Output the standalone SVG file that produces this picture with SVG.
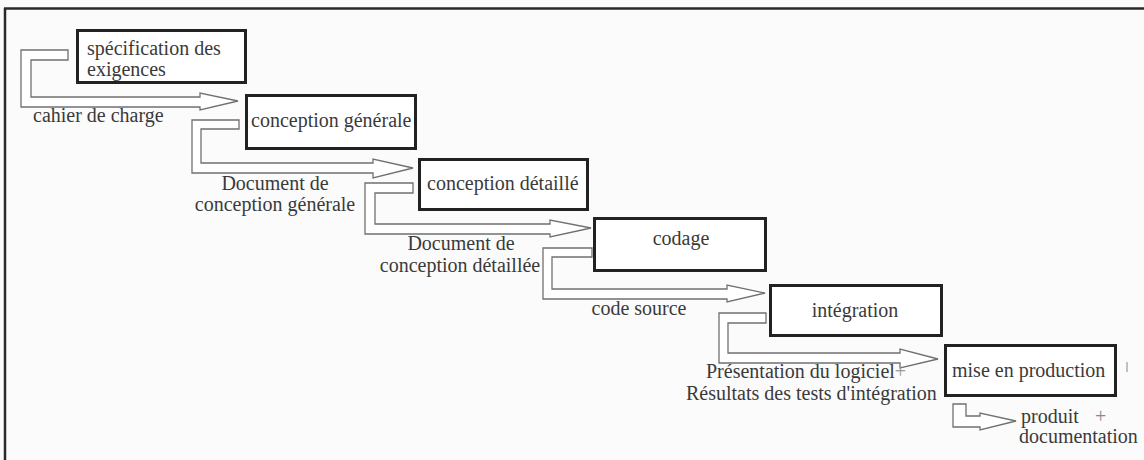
<svg xmlns="http://www.w3.org/2000/svg" width="1144" height="460" viewBox="0 0 1144 460">
<style>
.bg{fill:#fbfbfb}
.frame{stroke:#2a2a2a;stroke-width:2.5;fill:none}
.box{fill:#ffffff;stroke:#222222;stroke-width:3}
.conn{fill:#ffffff;stroke:#707070;stroke-width:1.3;stroke-linejoin:miter}
.t{font-family:'Liberation Serif','DejaVu Serif','Times New Roman',serif;font-size:20px;fill:#3a3a3a}
.c{text-anchor:middle}
</style>
<rect class="bg" x="0" y="0" width="1144" height="460"/>
<g id="frame">
<line class="frame" x1="4" y1="8.5" x2="1144" y2="8.5"/>
<line class="frame" x1="5" y1="8" x2="5" y2="460"/>
</g>
<g id="connectors">
<path class="conn" d="M21,50 H68 V60 H31 V97 H200 V93 L238,101 L200,110 V107 H21 Z"/>
<path class="conn" d="M192,120 H239 V129 H201 V163 H373 V159 L413,168 L373,178 V173 H192 Z"/>
<path class="conn" d="M365,183 H413 V193 H375 V224 H550 V220 L591,228 L550,237 V234 H365 Z"/>
<path class="conn" d="M543,248 H592 V257 H552 V289 H727 V285 L765,293 L727,302 V299 H543 Z"/>
<path class="conn" d="M719,313 H766 V323 H728 V353 H900 V349 L938,359 L900,368 V363 H719 Z"/>
<path class="conn" d="M953,404 H966 V416 H980 V413 L1016,421 L980,430 V427 H953 Z"/>
<text class="t" x="33" y="122">cahier de charge</text>
<text class="t c" x="275" y="190">Document de</text>
<text class="t c" x="275" y="211">conception générale</text>
<text class="t c" x="461" y="250">Document de</text>
<text class="t c" x="460" y="272">conception détaillée</text>
<text class="t c" x="639" y="315">code source</text>
<text class="t" x="706" y="378">Présentation du logiciel<tspan fill="#999">+</tspan></text>
<text class="t" x="686" y="400">Résultats des tests d'intégration</text>
<text class="t" x="1021" y="423">produit<tspan x="1095" fill="#888">+</tspan></text>
<text class="t" x="1019" y="443">documentation</text>
</g>
<g id="n1">
<rect class="box" x="77.5" y="30.5" width="168" height="52"/>
<text class="t" x="87" y="55">spécification des</text>
<text class="t" x="87" y="76">exigences</text>
</g>
<g id="n2">
<rect class="box" x="246.5" y="95.5" width="169" height="53"/>
<text class="t" x="251" y="127">conception générale</text>
</g>
<g id="n3">
<rect class="box" x="419.5" y="159.5" width="168" height="50"/>
<text class="t" x="427" y="190">conception détaillé</text>
</g>
<g id="n4">
<rect class="box" x="594.5" y="218.5" width="171" height="52"/>
<text class="t c" x="681" y="245">codage</text>
</g>
<g id="n5">
<rect class="box" x="770.5" y="285.5" width="171" height="50"/>
<text class="t c" x="855" y="317">intégration</text>
</g>
<g id="n6">
<rect class="box" x="945.5" y="345.5" width="170" height="50"/>
<text class="t" x="952" y="377">mise en production</text>
<line x1="1127" y1="362" x2="1127" y2="372" stroke="#888" stroke-width="1"/>
</g>
</svg>
